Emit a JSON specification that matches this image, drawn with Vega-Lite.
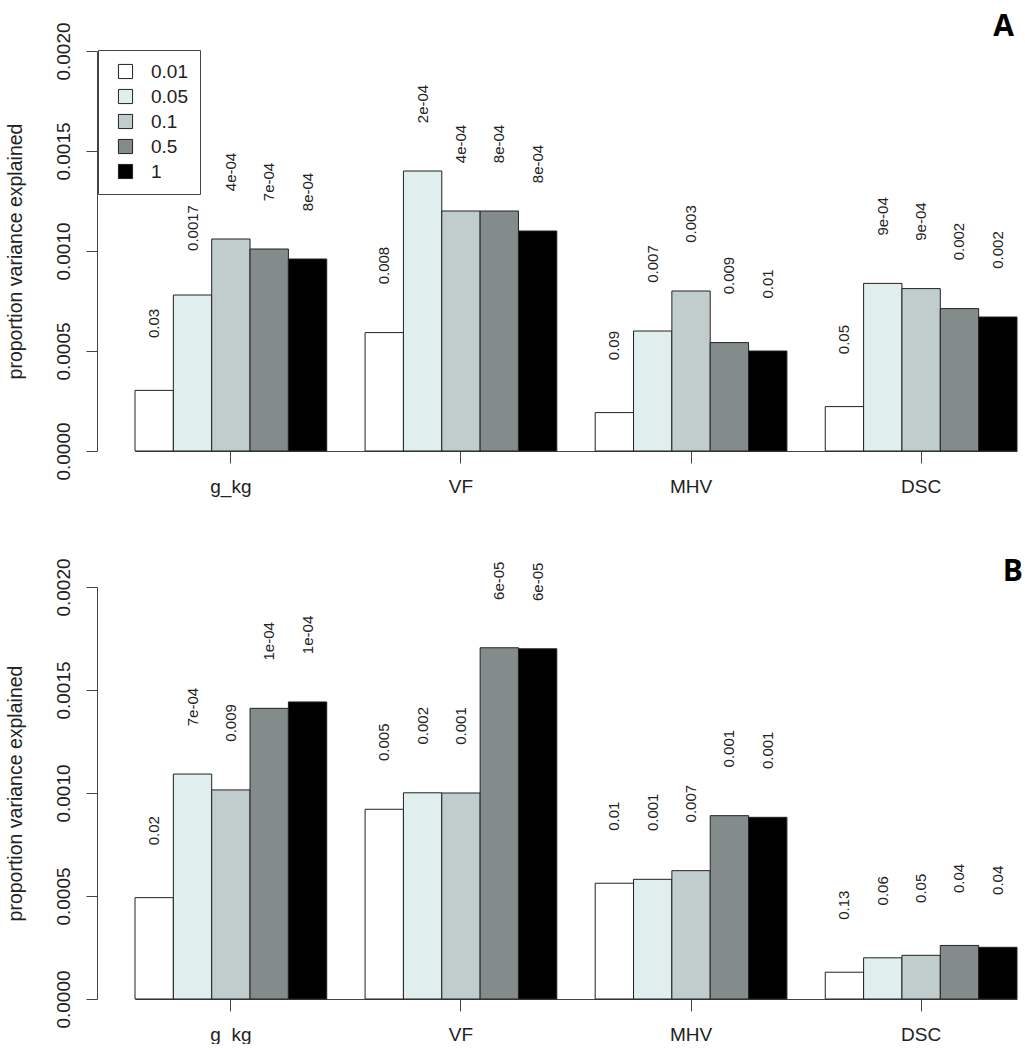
{
  "$schema": "https://vega.github.io/schema/vega-lite/v6.json",
  "background": "white",
  "padding": {"left": 5, "top": 11, "right": 0, "bottom": 0},
  "config": {
    "view": {"stroke": null},
    "font": "Liberation Sans",
    "axis": {"grid": false, "domainColor": "#444", "tickColor": "#444", "labelColor": "#222", "titleColor": "#222", "titleFontWeight": "normal"}
  },
  "datasets": {
    "bars": [
      {"panel": "A", "trait": "g_kg", "threshold": "0.01", "value": 0.000303, "label": "0.03"},
      {"panel": "A", "trait": "g_kg", "threshold": "0.05", "value": 0.00078, "label": "0.0017"},
      {"panel": "A", "trait": "g_kg", "threshold": "0.1", "value": 0.00106, "label": "4e-04"},
      {"panel": "A", "trait": "g_kg", "threshold": "0.5", "value": 0.00101, "label": "7e-04"},
      {"panel": "A", "trait": "g_kg", "threshold": "1", "value": 0.00096, "label": "8e-04"},
      {"panel": "A", "trait": "VF", "threshold": "0.01", "value": 0.000592, "label": "0.008"},
      {"panel": "A", "trait": "VF", "threshold": "0.05", "value": 0.0014, "label": "2e-04"},
      {"panel": "A", "trait": "VF", "threshold": "0.1", "value": 0.0012, "label": "4e-04"},
      {"panel": "A", "trait": "VF", "threshold": "0.5", "value": 0.0012, "label": "8e-04"},
      {"panel": "A", "trait": "VF", "threshold": "1", "value": 0.0011, "label": "8e-04"},
      {"panel": "A", "trait": "MHV", "threshold": "0.01", "value": 0.000192, "label": "0.09"},
      {"panel": "A", "trait": "MHV", "threshold": "0.05", "value": 0.0006, "label": "0.007"},
      {"panel": "A", "trait": "MHV", "threshold": "0.1", "value": 0.0008, "label": "0.003"},
      {"panel": "A", "trait": "MHV", "threshold": "0.5", "value": 0.000542, "label": "0.009"},
      {"panel": "A", "trait": "MHV", "threshold": "1", "value": 0.0005, "label": "0.01"},
      {"panel": "A", "trait": "DSC", "threshold": "0.01", "value": 0.000222, "label": "0.05"},
      {"panel": "A", "trait": "DSC", "threshold": "0.05", "value": 0.000838, "label": "9e-04"},
      {"panel": "A", "trait": "DSC", "threshold": "0.1", "value": 0.000812, "label": "9e-04"},
      {"panel": "A", "trait": "DSC", "threshold": "0.5", "value": 0.000712, "label": "0.002"},
      {"panel": "A", "trait": "DSC", "threshold": "1", "value": 0.00067, "label": "0.002"},
      {"panel": "B", "trait": "g_kg", "threshold": "0.01", "value": 0.000492, "label": "0.02"},
      {"panel": "B", "trait": "g_kg", "threshold": "0.05", "value": 0.001092, "label": "7e-04"},
      {"panel": "B", "trait": "g_kg", "threshold": "0.1", "value": 0.001015, "label": "0.009"},
      {"panel": "B", "trait": "g_kg", "threshold": "0.5", "value": 0.001411, "label": "1e-04"},
      {"panel": "B", "trait": "g_kg", "threshold": "1", "value": 0.001442, "label": "1e-04"},
      {"panel": "B", "trait": "VF", "threshold": "0.01", "value": 0.000921, "label": "0.005"},
      {"panel": "B", "trait": "VF", "threshold": "0.05", "value": 0.001001, "label": "0.002"},
      {"panel": "B", "trait": "VF", "threshold": "0.1", "value": 0.001, "label": "0.001"},
      {"panel": "B", "trait": "VF", "threshold": "0.5", "value": 0.001705, "label": "6e-05"},
      {"panel": "B", "trait": "VF", "threshold": "1", "value": 0.0017, "label": "6e-05"},
      {"panel": "B", "trait": "MHV", "threshold": "0.01", "value": 0.000562, "label": "0.01"},
      {"panel": "B", "trait": "MHV", "threshold": "0.05", "value": 0.000581, "label": "0.001"},
      {"panel": "B", "trait": "MHV", "threshold": "0.1", "value": 0.000623, "label": "0.007"},
      {"panel": "B", "trait": "MHV", "threshold": "0.5", "value": 0.00089, "label": "0.001"},
      {"panel": "B", "trait": "MHV", "threshold": "1", "value": 0.000882, "label": "0.001"},
      {"panel": "B", "trait": "DSC", "threshold": "0.01", "value": 0.00013, "label": "0.13"},
      {"panel": "B", "trait": "DSC", "threshold": "0.05", "value": 0.0002, "label": "0.06"},
      {"panel": "B", "trait": "DSC", "threshold": "0.1", "value": 0.000212, "label": "0.05"},
      {"panel": "B", "trait": "DSC", "threshold": "0.5", "value": 0.00026, "label": "0.04"},
      {"panel": "B", "trait": "DSC", "threshold": "1", "value": 0.000251, "label": "0.04"}
    ]
  },
  "spacing": 60,
  "resolve": {"scale": {"color": "independent"}},
  "vconcat": [
    {
      "width": 882,
      "height": 400,
      "title": {"text": "A", "anchor": "end", "frame": "group", "fontSize": 30, "fontWeight": "bold", "font": "Open Sans", "baseline": "alphabetic", "offset": -44, "dx": -3, "color": "#000"},
      "data": {"name": "bars"},
      "transform": [{"filter": "datum.panel == 'A'"}],
      "encoding": {
        "x": {"field": "trait", "type": "nominal", "sort": ["g_kg", "VF", "MHV", "DSC"],
              "scale": {"paddingInner": 0.16667, "paddingOuter": 0},
              "axis": {"title": null, "labelAngle": 0, "tickSize": 12, "labelPadding": 14, "labelFontSize": 19}},
        "xOffset": {"field": "threshold", "type": "nominal", "sort": ["0.01", "0.05", "0.1", "0.5", "1"],
                    "scale": {"paddingInner": 0, "paddingOuter": 0}},
        "y": {"field": "value", "type": "quantitative",
              "scale": {"domain": [0, 0.002], "nice": false},
              "axis": {"title": "proportion variance explained", "values": [0, 0.0005, 0.001, 0.0015, 0.002], "format": ".4f",
                       "offset": 38, "tickSize": 11, "labelAngle": -90, "labelAlign": "center", "labelBaseline": "bottom",
                       "labelPadding": 13, "labelFontSize": 19, "titleFontSize": 19.5, "titlePadding": 29}}
      },
      "layer": [
        {
          "mark": {"type": "bar", "stroke": "#222", "strokeWidth": 1, "opacity": 1},
          "encoding": {
            "color": {"field": "threshold", "type": "nominal", "sort": ["0.01", "0.05", "0.1", "0.5", "1"],
                      "scale": {"domain": ["0.01", "0.05", "0.1", "0.5", "1"], "range": ["#FFFFFF", "#E0EEEE", "#C1CDCD", "#838B8B", "#000000"]},
                      "legend": {"title": null, "orient": "none", "legendX": -37, "legendY": -1,
                                 "symbolType": "square", "symbolSize": 200, "symbolStrokeColor": "#222", "symbolStrokeWidth": 1,
                                 "symbolOffset": 6, "labelFontSize": 19, "labelOffset": 16, "labelColor": "#222",
                                 "rowPadding": 5, "padding": 12, "strokeColor": "#444", "fillColor": "white"}}
          }
        },
        {
          "mark": {"type": "text", "angle": 270, "dx": 67, "align": "center", "baseline": "middle", "fontSize": 15, "color": "#222"},
          "encoding": {"text": {"field": "label", "type": "nominal"}}
        }
      ]
    },
    {
      "width": 882,
      "height": 412,
      "title": {"text": "B", "anchor": "end", "frame": "group", "fontSize": 30, "fontWeight": "bold", "font": "Open Sans", "baseline": "alphabetic", "offset": -53, "dx": 6, "color": "#000"},
      "data": {"name": "bars"},
      "transform": [{"filter": "datum.panel == 'B'"}],
      "encoding": {
        "x": {"field": "trait", "type": "nominal", "sort": ["g_kg", "VF", "MHV", "DSC"],
              "scale": {"paddingInner": 0.16667, "paddingOuter": 0},
              "axis": {"title": null, "labelAngle": 0, "tickSize": 12, "labelPadding": 14, "labelFontSize": 19}},
        "xOffset": {"field": "threshold", "type": "nominal", "sort": ["0.01", "0.05", "0.1", "0.5", "1"],
                    "scale": {"paddingInner": 0, "paddingOuter": 0}},
        "y": {"field": "value", "type": "quantitative",
              "scale": {"domain": [0, 0.002], "nice": false},
              "axis": {"title": "proportion variance explained", "values": [0, 0.0005, 0.001, 0.0015, 0.002], "format": ".4f",
                       "offset": 38, "tickSize": 11, "labelAngle": -90, "labelAlign": "center", "labelBaseline": "bottom",
                       "labelPadding": 13, "labelFontSize": 19, "titleFontSize": 19.5, "titlePadding": 29}}
      },
      "layer": [
        {
          "mark": {"type": "bar", "stroke": "#222", "strokeWidth": 1, "opacity": 1},
          "encoding": {
            "color": {"field": "threshold", "type": "nominal", "sort": ["0.01", "0.05", "0.1", "0.5", "1"],
                      "scale": {"domain": ["0.01", "0.05", "0.1", "0.5", "1"], "range": ["#FFFFFF", "#E0EEEE", "#C1CDCD", "#838B8B", "#000000"]},
                      "legend": null}
          }
        },
        {
          "mark": {"type": "text", "angle": 270, "dx": 67, "align": "center", "baseline": "middle", "fontSize": 15, "color": "#222"},
          "encoding": {"text": {"field": "label", "type": "nominal"}}
        }
      ]
    }
  ]
}
